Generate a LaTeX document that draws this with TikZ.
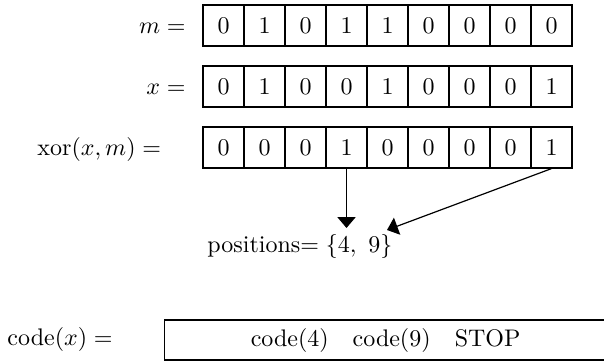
\documentclass[tikz,border=0pt]{standalone}
\usetikzlibrary{arrows.meta}
\begin{document}
\begin{tikzpicture}[x=0.4167pt,y=-0.4167pt,
  cell/.style={draw, minimum width=17.08pt, minimum height=17.08pt, inner sep=0pt, line width=0.5pt},
  lbl/.style={inner sep=0pt},
  arr/.style={-{Triangle[width=7.5pt,length=4.5pt]}, line width=0.5pt}]
\useasboundingbox (0,0) rectangle (604,361);
% rows
\foreach \v [count=\i] in {0,1,0,1,1,0,0,0,0}
  \node[cell] (m\i) at ({223.5+41*(\i-1)},25.5) {$\v$};
\foreach \v [count=\i] in {0,1,0,0,1,0,0,0,1}
  \node[cell] (x\i) at ({223.5+41*(\i-1)},86.5) {$\v$};
\foreach \v [count=\i] in {0,0,0,1,0,0,0,0,1}
  \node[cell] (r\i) at ({223.5+41*(\i-1)},147.5) {$\v$};
% labels
\node[lbl, anchor=base east] (lm) at (186,33.2) {$m =$};
\node[lbl, anchor=base east] (lx) at (186,94.2) {$x =$};
\node[lbl, anchor=base west] (lr) at (37,155.2) {$\mathrm{xor}(x, m) =$};
% positions
\node[lbl, anchor=base west] (pos) at (207,252) {positions$=\{4,\ 9\}$};
\coordinate (t1) at (346.5,228);
\coordinate (t2) at (387,230);
\draw[arr] (r4.south) -- (t1);
\draw[arr] (r9.south) -- (t2);
% code
\node[lbl, anchor=base west] (lc) at (7,345) {$\mathrm{code}(x) =$};
\node[draw, line width=0.5pt, minimum width=184.2pt, minimum height=16.67pt, inner sep=0pt, anchor=west] (code) at (164,340)
  {$\mathrm{code}(4)$\quad$\mathrm{code}(9)$\quad STOP};
\end{tikzpicture}
\end{document}
